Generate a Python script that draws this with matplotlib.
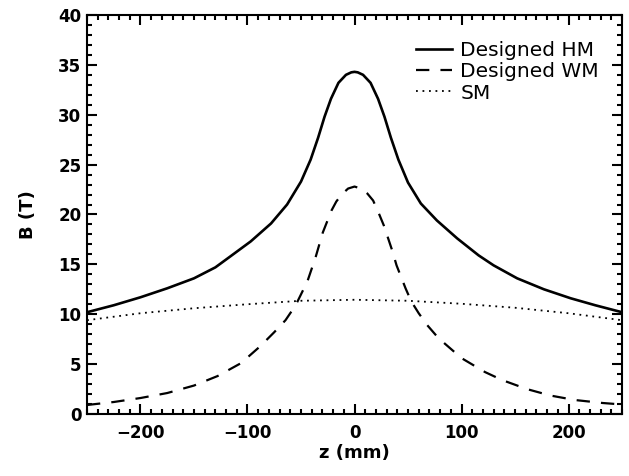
import numpy as np
import matplotlib
matplotlib.use("Agg")
from matplotlib import pyplot as plt
from matplotlib.ticker import MultipleLocator

# Designed HM (solid)
z_hm = [-250, -225, -200, -175, -150, -130, -116, -97, -78, -63, -50, -41, -34, -28, -22,
        -15, -8, -3, 0, 3, 8, 15, 22, 28, 34, 41, 50, 62, 77, 96, 116, 130,
        152, 177, 202, 225, 250]
b_hm = [10.2, 10.9, 11.7, 12.6, 13.6, 14.7, 15.8, 17.3, 19.1, 21.0, 23.3, 25.5, 27.7, 29.8, 31.6,
        33.2, 34.0, 34.25, 34.3, 34.25, 34.0, 33.2, 31.6, 29.8, 27.7, 25.5, 23.2, 21.1, 19.4, 17.6, 15.9, 14.9,
        13.6, 12.5, 11.6, 10.9, 10.2]

# Designed WM (dashed)
z_wm = [-250, -225, -200, -175, -150, -128, -106, -88, -75, -64.5, -55, -44, -36.4, -29.6, -21.5,
        -17, -12, -6, 0, 6, 12, 17.4, 22, 27.4, 35.2, 39.3, 47.7, 53, 60, 68, 78.5, 100, 122, 138,
        161, 183, 206, 232, 250]
b_wm = [0.9, 1.2, 1.6, 2.1, 2.85, 3.8, 5.1, 6.8, 8.2, 9.4, 10.9, 13.3, 15.7, 18.2, 20.4,
        21.3, 22.0, 22.6, 22.8, 22.6, 22.1, 21.4, 20.3, 18.9, 16.4, 14.9, 12.6, 11.3, 10.1, 8.9, 7.6, 5.6, 4.2, 3.4,
        2.5, 1.85, 1.4, 1.1, 0.95]

# SM (dotted)
z_sm = [-250, -200, -150, -100, -50, 0, 50, 100, 150, 200, 250]
b_sm = [9.4, 10.1, 10.6, 11.0, 11.35, 11.45, 11.35, 11.05, 10.65, 10.1, 9.4]

fig = plt.figure(figsize=(6.29, 4.76), dpi=100)
ax = fig.add_axes([0.1383, 0.1303, 0.8506, 0.8382])

ax.plot(z_hm, b_hm, color="black", lw=1.9, label="Designed HM")
ax.plot(z_wm, b_wm, color="black", lw=1.6, dashes=(6, 5), label="Designed WM")
ax.plot(z_sm, b_sm, color="black", lw=1.3, dashes=(1, 2.6), label="SM")

ax.set_xlim(-250, 250)
ax.set_ylim(0, 40)
ax.xaxis.set_major_locator(MultipleLocator(100))
ax.xaxis.set_minor_locator(MultipleLocator(10))
ax.yaxis.set_major_locator(MultipleLocator(5))
ax.yaxis.set_minor_locator(MultipleLocator(1))
ax.tick_params(which="both", direction="in", top=True, right=True, width=1.5)
ax.tick_params(which="major", length=7, pad=4)
ax.tick_params(which="minor", length=3.5)
ax.tick_params(axis="x", which="major", pad=7)
for lab in ax.get_xticklabels() + ax.get_yticklabels():
    lab.set_fontsize(12)
    lab.set_fontweight("bold")
for sp in ax.spines.values():
    sp.set_linewidth(1.5)

ax.set_xlabel("z (mm)", fontsize=13, fontweight="bold", labelpad=2)
ax.set_ylabel("B (T)", fontsize=13, fontweight="bold", labelpad=15)

ax.legend(loc="upper right", frameon=False, fontsize=14.5, handlelength=1.8,
          handletextpad=0.4, labelspacing=0.12, borderaxespad=0.5,
          bbox_to_anchor=(0.991, 0.981))

fig.savefig("out.png", dpi=100)
